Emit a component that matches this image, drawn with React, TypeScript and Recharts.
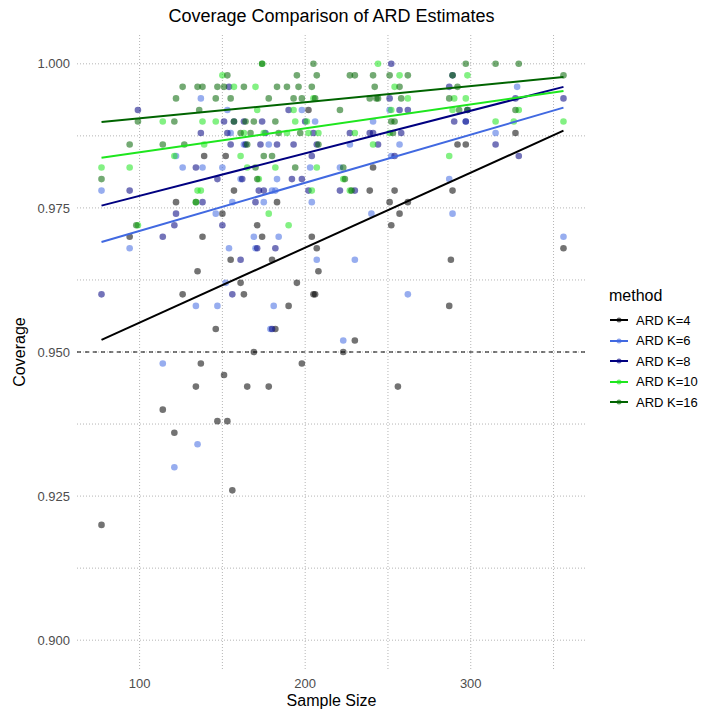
import React from 'react'
import { ScatterChart, Scatter, XAxis, YAxis, CartesianGrid, ReferenceLine } from 'recharts'

// [sample size, coverage]
const K4: [number, number][] = [
  [77, 0.92], [94, 0.97], [114, 0.94], [121, 0.936], [122, 0.976], [126, 0.96], [134, 0.944], [135, 0.964],
  [137, 0.948], [138, 0.97], [139, 0.984], [146, 0.954], [147, 0.938], [150, 0.974], [151, 0.946], [152, 0.984],
  [153, 0.938], [155, 0.966], [156, 0.926], [157, 0.978], [161, 0.962], [163, 0.96], [165, 0.944], [169, 0.95],
  [171, 0.972], [174, 0.97], [178, 0.944], [180, 0.966], [182, 0.954], [183, 0.976], [190, 0.958], [195, 0.962],
  [198, 0.948], [202, 0.992], [204, 0.97], [205, 0.96], [206, 0.96], [207, 0.968], [208, 0.964], [223, 0.95],
  [230, 0.952], [239, 0.978], [241, 0.982], [251, 0.976], [252, 0.972], [254, 0.978], [256, 0.944], [257, 0.974],
  [262, 0.976], [287, 0.958], [288, 0.966], [289, 0.978], [292, 0.986], [297, 0.986], [327, 0.988], [356, 0.968],
]
const K6: [number, number][] = [
  [77, 0.978], [94, 0.968], [114, 0.948], [121, 0.93], [122, 0.984], [126, 0.982], [134, 0.958], [135, 0.934],
  [137, 0.994], [138, 0.982], [146, 0.974], [147, 0.958], [150, 0.982], [152, 0.962], [153, 0.992], [154, 0.968],
  [155, 0.988], [156, 0.976], [161, 0.98], [163, 0.986], [169, 0.97], [170, 0.968], [175, 0.976], [178, 0.986],
  [179, 0.954], [180, 0.978], [181, 0.958], [182, 0.978], [183, 0.98], [184, 0.97], [198, 0.992], [203, 0.982],
  [204, 0.976], [206, 0.99], [207, 0.966], [221, 0.982], [223, 0.952], [227, 0.986], [230, 0.966], [240, 0.974],
  [241, 0.99], [251, 0.992], [252, 0.984], [257, 0.986], [262, 0.96], [287, 0.98], [289, 0.974], [297, 0.99],
  [315, 0.988], [328, 0.996], [356, 0.97],
]
const K8: [number, number][] = [
  [77, 0.96], [94, 0.978], [99, 0.992], [114, 0.97], [121, 0.972], [122, 0.974], [134, 0.982], [137, 0.988],
  [138, 0.976], [147, 0.98], [150, 0.972], [151, 0.99], [153, 0.988], [154, 0.996], [155, 0.986], [156, 0.96],
  [157, 0.99], [161, 0.966], [162, 0.98], [163, 0.99], [164, 0.986], [170, 0.976], [171, 0.968], [172, 0.978],
  [173, 0.986], [174, 0.99], [175, 0.978], [176, 0.988], [180, 0.954], [182, 0.968], [183, 0.986], [190, 0.992],
  [192, 0.98], [193, 0.986], [198, 0.98], [200, 0.99], [202, 0.978], [204, 0.984], [205, 0.988], [207, 0.986],
  [221, 0.978], [227, 0.988], [230, 0.978], [239, 0.988], [241, 0.988], [244, 0.986], [251, 0.994], [252, 1.0],
  [254, 0.984], [257, 0.992], [258, 0.988], [262, 0.992], [287, 0.996], [289, 0.998], [290, 0.99], [297, 0.99],
  [298, 0.992], [315, 0.986], [327, 0.994], [329, 0.984], [356, 0.994],
]
const K10: [number, number][] = [
  [77, 0.982], [94, 0.982], [99, 0.972], [114, 0.99], [121, 0.984], [134, 0.976], [135, 0.978], [137, 0.978],
  [138, 0.99], [139, 0.986], [146, 0.99], [150, 0.998], [157, 0.996], [161, 0.984], [163, 0.988], [165, 0.982],
  [170, 0.996], [171, 0.992], [172, 0.98], [174, 1.0], [175, 0.988], [178, 0.974], [182, 0.982], [189, 0.988],
  [190, 0.972], [193, 0.992], [194, 0.99], [201, 0.99], [202, 0.988], [204, 0.978], [205, 0.994], [207, 0.982],
  [208, 0.988], [223, 0.98], [227, 0.978], [230, 0.988], [241, 0.986], [244, 1.0], [251, 0.988], [252, 0.992],
  [254, 0.996], [257, 0.998], [262, 0.994], [287, 0.984], [289, 0.992], [290, 0.994], [297, 0.994], [298, 0.998],
  [315, 0.99], [326, 0.99], [329, 0.992], [356, 0.99],
]
const K16: [number, number][] = [
  [77, 0.98], [94, 0.986], [98, 0.972], [99, 0.99], [114, 0.986], [121, 0.99], [122, 0.994], [126, 0.996],
  [127, 0.986], [134, 0.976], [135, 0.996], [136, 0.992], [138, 0.996], [146, 0.994], [147, 0.996], [151, 0.996],
  [153, 0.998], [155, 0.994], [157, 0.99], [161, 0.988], [163, 0.996], [164, 0.99], [165, 0.986], [167, 0.988],
  [169, 0.99], [170, 0.982], [171, 0.98], [174, 1.0], [175, 0.984], [178, 0.994], [180, 0.984], [182, 0.99],
  [183, 0.996], [184, 0.988], [189, 0.996], [193, 0.994], [194, 0.982], [195, 0.998], [196, 0.996], [197, 0.988],
  [198, 0.994], [204, 0.996], [205, 1.0], [206, 0.994], [207, 0.998], [208, 0.986], [221, 0.992], [223, 0.982],
  [224, 0.98], [227, 0.998], [228, 0.978], [230, 0.998], [239, 0.994], [241, 0.998], [242, 0.996], [243, 0.994],
  [244, 0.994], [251, 0.998], [252, 0.99], [253, 0.988], [254, 0.99], [257, 0.996], [258, 0.994], [262, 0.998],
  [287, 0.994], [289, 0.998], [292, 0.996], [293, 0.992], [297, 1.0], [298, 0.992], [315, 1.0], [327, 0.992],
  [329, 1.0], [356, 0.998],
]

// linear fit lines, coverage at the first and last sample size
const FIT_N = [77, 356]
const FIT_K4 = [0.9521, 0.9884]
const FIT_K6 = [0.9691, 0.9924]
const FIT_K8 = [0.9754, 0.996]
const FIT_K10 = [0.9837, 0.9953]
const FIT_K16 = [0.9899, 0.9977]

const METHODS = ['ARD K=4', 'ARD K=6', 'ARD K=8', 'ARD K=10', 'ARD K=16']
const COLORS = ['#000000', '#4169E1', '#000080', '#1EE61E', '#006400']
const POINTS = [K4, K6, K8, K10, K16]
const FITS = [FIT_K4, FIT_K6, FIT_K8, FIT_K10, FIT_K16]

const X_TICKS = [100, 200, 300]
const X_GRID = [100, 150, 200, 250, 300, 350]
const Y_TICKS = [0.9, 0.925, 0.95, 0.975, 1.0]
const Y_GRID = [0.9, 0.9125, 0.925, 0.9375, 0.95, 0.9625, 0.975, 0.9875, 1.0]

const FONT = '"Liberation Sans", Arial, Helvetica, sans-serif'
const W = 707
const H = 711

const dot = (color: string) => (p: any) => (
  <circle cx={p.cx} cy={p.cy} r={3.3} fill={color} fillOpacity={0.55} />
)
const noDot = () => <g />

export default function App() {
  return (
    <div style={{ position: 'absolute', left: 0, top: 0, width: W, height: H, background: '#fff', fontFamily: FONT }}>
      <ScatterChart width={W} height={H} margin={{ top: 35, right: 121, bottom: 0, left: 17 }}>
        <CartesianGrid
          stroke="#b5b5b5"
          strokeDasharray="1 2"
          horizontalValues={Y_GRID}
          verticalValues={X_GRID}
        />
        <XAxis
          type="number"
          dataKey="n"
          domain={[62.2, 369.6]}
          ticks={X_TICKS}
          allowDataOverflow
          height={42}
          axisLine={false}
          tickLine={false}
          tickSize={4}
          tickMargin={6}
          tick={{ fill: '#4d4d4d', fontSize: 13, fontFamily: FONT }}
        />
        <YAxis
          type="number"
          dataKey="cov"
          domain={[0.895, 1.005]}
          ticks={Y_TICKS}
          allowDataOverflow
          width={60}
          axisLine={false}
          tickLine={false}
          tickSize={4}
          tickMargin={3}
          tickFormatter={(v: number) => v.toFixed(3)}
          tick={{ fill: '#4d4d4d', fontSize: 13, fontFamily: FONT }}
        />
        <ReferenceLine y={0.95} stroke="#000" strokeWidth={1} strokeDasharray="4 4" />
        {POINTS.map((pts, i) => (
          <Scatter
            key={METHODS[i]}
            name={METHODS[i]}
            data={pts.map(([n, cov]) => ({ n, cov }))}
            shape={dot(COLORS[i])}
            isAnimationActive={false}
          />
        ))}
        {FITS.map((f, i) => (
          <Scatter
            key={'fit' + i}
            data={FIT_N.map((n, j) => ({ n, cov: f[j] }))}
            line={{ stroke: COLORS[i], strokeWidth: 2 }}
            stroke={COLORS[i]}
            shape={noDot}
            isAnimationActive={false}
          />
        ))}
      </ScatterChart>

      <div style={{ position: 'absolute', left: 77, width: 509, top: 692, textAlign: 'center', fontSize: 16, lineHeight: '17px', color: '#000' }}>
        Sample Size
      </div>
      <div style={{ position: 'absolute', left: 77, width: 509, top: 6, textAlign: 'center', fontSize: 18, color: '#000' }}>
        Coverage Comparison of ARD Estimates
      </div>
      <div
        style={{
          position: 'absolute', left: 20, top: 352, fontSize: 16, color: '#000', whiteSpace: 'nowrap',
          transform: 'translate(-50%, -50%) rotate(-90deg)',
        }}
      >
        Coverage
      </div>

      <div style={{ position: 'absolute', left: 609, top: 287 }}>
        <div style={{ fontSize: 16, color: '#000', marginBottom: 5 }}>method</div>
        {METHODS.map((m, i) => (
          <div key={m} style={{ display: 'flex', alignItems: 'center', height: 20.5 }}>
            <svg width={20} height={10} style={{ marginRight: 7 }}>
              <line x1={1} y1={5} x2={19} y2={5} stroke={COLORS[i]} strokeWidth={2} />
              <circle cx={10} cy={5} r={2.5} fill={COLORS[i]} fillOpacity={0.6} />
            </svg>
            <span style={{ fontSize: 13, color: '#000' }}>{m}</span>
          </div>
        ))}
      </div>
    </div>
  )
}
